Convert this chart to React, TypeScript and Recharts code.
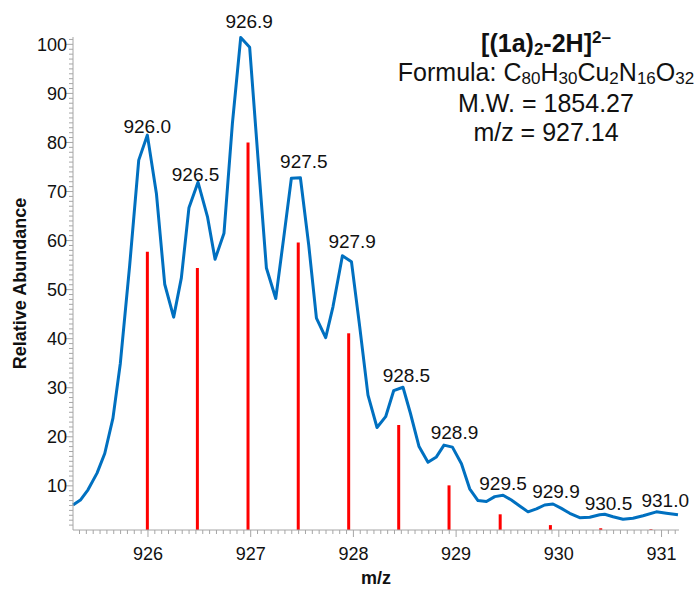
import {
  ComposedChart,
  Label,
  Line,
  ReferenceDot,
  ReferenceLine,
  XAxis,
  YAxis,
} from "recharts";

const FONT = "'Liberation Sans', Arial, sans-serif";
const BLUE = "#0070c0";
const RED = "#ff0000";
const AXIS_GREY = "#a6a6a6";

// measured profile (m/z vs relative abundance)
const PROFILE_MZ = [
  925.27, 925.342, 925.416, 925.504, 925.579, 925.659, 925.731, 925.822, 925.91, 925.994,
  926.082, 926.163, 926.25, 926.325, 926.399, 926.487, 926.579, 926.653, 926.74, 926.822,
  926.903, 926.99, 927.071, 927.153, 927.244, 927.321, 927.396, 927.484, 927.565, 927.64,
  927.73, 927.801, 927.893, 927.981, 928.061, 928.142, 928.23, 928.314, 928.392, 928.483,
  928.555, 928.639, 928.726, 928.808, 928.882, 928.964, 929.052, 929.132, 929.213, 929.295,
  929.376, 929.457, 929.538, 929.619, 929.7, 929.782, 929.862, 929.943, 930.025, 930.106,
  930.203, 930.301, 930.398, 930.447, 930.528, 930.625, 930.722, 930.82, 930.95, 931.047, 931.16,
];
const PROFILE_ABUNDANCE = [
  6.1, 7.1, 9.2, 12.6, 16.6, 23.8, 35.0, 55.0, 76.4, 81.5,
  69.6, 51.1, 44.4, 52.4, 66.7, 71.9, 64.9, 56.2, 61.5, 83.9,
  101.4, 99.4, 76.8, 54.4, 48.2, 60.5, 72.7, 72.8, 59.1, 44.2,
  40.2, 46.5, 56.9, 55.7, 42.5, 28.5, 21.9, 24.1, 29.4, 30.1,
  24.8, 18.0, 14.8, 15.9, 18.3, 17.9, 14.5, 9.4, 7.0, 6.8,
  7.8, 8.1, 7.1, 5.9, 4.7, 5.3, 6.1, 6.3, 5.4, 4.4,
  3.5, 3.6, 4.1, 4.2, 3.7, 3.2, 3.4, 3.9, 4.7, 4.4, 4.1,
];

// simulated isotope pattern (sticks)
const STICK_MZ = [
  925.994, 926.481, 926.974, 927.463, 927.954, 928.441, 928.931, 929.429, 929.918, 930.408, 930.897,
];
const STICK_ABUNDANCE = [57.7, 54.4, 80.0, 59.6, 41.1, 22.4, 10.1, 4.2, 2.0, 1.35, 1.15];

// peak annotations: text, centre m/z, baseline level
const PEAK_LABELS = [
  "926.0", "926.5", "926.9", "927.5", "927.9", "928.5", "928.9", "929.5", "929.9", "930.5", "931.0",
];
const PEAK_LABEL_MZ = [
  925.993, 926.463, 926.985, 927.518, 927.988, 928.516, 928.984, 929.457, 929.972, 930.483, 931.036,
];
const PEAK_LABEL_LEVEL = [82.0, 72.2, 103.3, 74.7, 58.4, 31.2, 19.5, 9.15, 7.46, 5.08, 5.75];

const X_DOMAIN: [number, number] = [925.27, 931.17];
const Y_DOMAIN: [number, number] = [1, 101.5];
const X_LABELS = [926, 927, 928, 929, 930, 931];
const Y_LABELS = [10, 20, 30, 40, 50, 60, 70, 80, 90, 100];

const profile = PROFILE_MZ.map((mz, i) => ({ mz, abundance: PROFILE_ABUNDANCE[i] }));

// minor ticks: 15 per m/z unit, 1 per abundance unit
const xTicks: number[] = [];
for (let i = Math.ceil(X_DOMAIN[0] * 15); i <= Math.floor(X_DOMAIN[1] * 15); i++) xTicks.push(i / 15);
const yTicks: number[] = [];
for (let v = 2; v <= 101; v++) yTicks.push(v);

function XTick({ x, y, payload }: any) {
  const v = payload.value as number;
  const major = X_LABELS.some((m) => Math.abs(m - v) < 1e-6);
  return (
    <g>
      <line x1={x} x2={x} y1={y} y2={y + (major ? 7 : 4)} stroke={AXIS_GREY} />
      {major && (
        <text x={x} y={y + 30} textAnchor="middle" fontSize={18} fontFamily={FONT} fill="#111">
          {Math.round(v)}
        </text>
      )}
    </g>
  );
}

function YTick({ x, y, payload }: any) {
  const v = payload.value as number;
  const major = Y_LABELS.includes(v);
  return (
    <g>
      <line x1={x - (major ? 7 : 4)} x2={x} y1={y} y2={y} stroke={AXIS_GREY} />
      {major && (
        <text x={x - 6} y={y} dy="0.36em" textAnchor="end" fontSize={18} fontFamily={FONT} fill="#111">
          {v}
        </text>
      )}
    </g>
  );
}

function YTitle(props: any) {
  const vb = props.viewBox ?? { x: 0, y: 0, width: 0, height: 0 };
  const cx = vb.x + 20;
  const cy = vb.y + vb.height / 2;
  return (
    <text
      x={cx}
      y={cy}
      transform={`rotate(-90, ${cx}, ${cy})`}
      textAnchor="middle"
      dy="0.36em"
      fontSize={18}
      fontWeight="bold"
      fontFamily={FONT}
      fill="#111"
    >
      Relative Abundance
    </text>
  );
}

function XTitle(props: any) {
  const vb = props.viewBox ?? { x: 0, y: 0, width: 0, height: 0 };
  return (
    <text
      x={vb.x + vb.width / 2}
      y={vb.y + 54}
      textAnchor="middle"
      fontSize={18}
      fontWeight="bold"
      fontFamily={FONT}
      fill="#111"
    >
      m/z
    </text>
  );
}

const sub = { fontSize: "0.68em", verticalAlign: "-0.2em", lineHeight: 0 } as const;
const sup = { fontSize: "0.68em", verticalAlign: "0.55em", lineHeight: 0 } as const;

export default function App() {
  return (
    <div style={{ position: "relative", width: 699, height: 592, background: "#fff" }}>
      <style>{"body{margin:0}"}</style>
      <ComposedChart
        width={699}
        height={592}
        data={profile}
        margin={{ top: 37, right: 20, bottom: 0, left: 0 }}
      >
        <XAxis
          dataKey="mz"
          type="number"
          domain={X_DOMAIN}
          ticks={xTicks}
          interval={0}
          tickSize={0}
          tickMargin={0}
          tickLine={false}
          tick={<XTick />}
          axisLine={{ stroke: AXIS_GREY }}
          height={62}
          label={<Label content={XTitle} />}
        />
        <YAxis
          type="number"
          domain={Y_DOMAIN}
          ticks={yTicks}
          interval={0}
          tickSize={0}
          tickMargin={0}
          tickLine={false}
          tick={<YTick />}
          axisLine={{ stroke: AXIS_GREY }}
          width={73}
          label={<Label content={YTitle} />}
        />
        {STICK_MZ.map((mz, i) => (
          <ReferenceLine
            key={`stick-${i}`}
            segment={[
              { x: mz, y: Y_DOMAIN[0] },
              { x: mz, y: STICK_ABUNDANCE[i] },
            ]}
            stroke={RED}
            strokeWidth={3}
          />
        ))}
        <Line
          type="linear"
          dataKey="abundance"
          stroke={BLUE}
          strokeWidth={3}
          strokeLinejoin="round"
          dot={false}
          activeDot={false}
          isAnimationActive={false}
        />
        {PEAK_LABELS.map((text, i) => (
          <ReferenceDot
            key={`label-${i}`}
            x={PEAK_LABEL_MZ[i]}
            y={PEAK_LABEL_LEVEL[i]}
            ifOverflow="visible"
            shape={(p: any) => (
              <text x={p.cx} y={p.cy} textAnchor="middle" fontSize={19} fontFamily={FONT} fill="#111">
                {text}
              </text>
            )}
          />
        ))}
      </ComposedChart>
      <div
        style={{
          position: "absolute",
          left: 376,
          top: 29,
          width: 340,
          textAlign: "center",
          whiteSpace: "nowrap",
          fontFamily: FONT,
          fontSize: 25,
          lineHeight: "29px",
          color: "#111",
        }}
      >
        <div style={{ fontWeight: "bold" }}>
          [(1a)<span style={sub}>2</span>-2H]<span style={sup}>2–</span>
        </div>
        <div>
          Formula: C<span style={sub}>80</span>H<span style={sub}>30</span>Cu<span style={sub}>2</span>N
          <span style={sub}>16</span>O<span style={sub}>32</span>
        </div>
        <div style={{ marginTop: 2 }}>M.W. = 1854.27</div>
        <div>m/z = 927.14</div>
      </div>
    </div>
  );
}
